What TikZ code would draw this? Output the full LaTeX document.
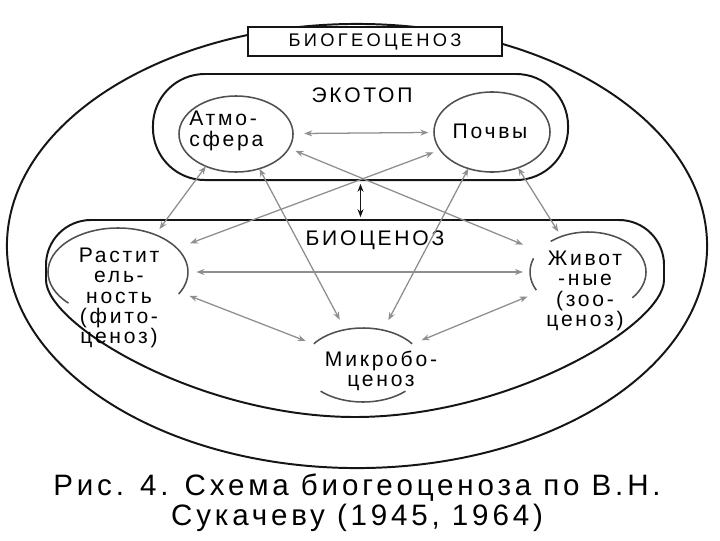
\documentclass[tikz,border=0pt]{standalone}
\usepackage{fontspec}
\setmainfont{Liberation Sans}
\newfontfamily\labelfont[LetterSpace=13]{Liberation Sans}
\newfontfamily\titlefont[LetterSpace=18]{Liberation Sans}
\newfontfamily\captionfont[LetterSpace=13]{Liberation Sans}
\usetikzlibrary{arrows.meta,shapes.geometric}
\definecolor{ink}{HTML}{151515}
\definecolor{rim}{HTML}{505050}
\definecolor{flow}{HTML}{8E8E8E}
\tikzset{
  shell/.style={draw=ink, line width=1.4pt},
  partnode/.style={ellipse, inner sep=0pt, outer sep=0pt},
  partrim/.style={draw=rim, line width=1.1pt},
  tag/.style={font=\labelfont\fontsize{15}{14.5}\selectfont, align=center, inner sep=0pt},
  headtag/.style={font=\labelfont\fontsize{15}{16}\selectfont, inner sep=0pt},
  titlebox/.style={draw=ink, fill=white, line width=1.1pt, minimum width=6.35cm,
    minimum height=0.725cm, inner sep=0pt, font=\titlefont\fontsize{13}{14}\selectfont},
  arr/.style={{Stealth[length=2mm,width=1.5mm]}-{Stealth[length=2mm,width=1.5mm]},
    line width=0.9pt, draw=flow},
  vertarr/.style={arr, draw=ink}
}
\begin{document}
\begin{tikzpicture}[x=0.025cm, y=-0.025cm]
  \useasboundingbox (0,0) rectangle (720,540);
  \node[partnode, shell, minimum width=17.5cm, minimum height=11.1cm] (bgc) at (357,246) {};
  \node[titlebox] (title) at (375,41.5) {БИОГЕОЦЕНОЗ};
  \node[shell, rounded corners=1.3cm, minimum width=10.375cm, minimum height=2.65cm] (ecotop) at (360.5,127) {};
  \node[headtag] (ecotop-t) at (362,95) {ЭКОТОП};
  \draw[shell] (91,220) -- (619,220) arc[start angle=-90, end angle=0, radius=45] -- (664,280)
    .. controls (664,325) and (510,417) .. (355,417)
    .. controls (200,417) and (46,325) .. (46,280) -- (46,265)
    arc[start angle=180, end angle=270, radius=45] -- cycle;
  \coordinate (bioc) at (360.5,220);
  \node[headtag] (bioc-t) at (375,240) {БИОЦЕНОЗ};

  \node[partnode, partrim, minimum width=2.85cm, minimum height=1.9cm] (atm) at (236,134) {};
  \node[partnode, partrim, minimum width=2.9cm, minimum height=2cm] (poch) at (492,132) {};
  \node[partnode, minimum width=3.5cm, minimum height=2.2cm] (rast) at (118,272) {};
  \node[partnode, minimum width=2.9cm, minimum height=2cm] (zhiv) at (588,272) {};
  \node[partnode, minimum width=3cm, minimum height=1.85cm] (micro) at (363,365) {};
  \draw[partrim] (rast.center) ++(135:70 and 44) arc[start angle=135, end angle=390, x radius=70, y radius=44];
  \draw[partrim] (zhiv.center) ++(230:58 and 40) arc[start angle=230, end angle=400, x radius=58, y radius=40];
  \draw[partrim] (zhiv.center) ++(153:58 and 40) arc[start angle=153, end angle=200, x radius=58, y radius=40];
  \draw[partrim] (micro.center) ++(215:60 and 37) arc[start angle=215, end angle=325, x radius=60, y radius=37];
  \draw[partrim] (micro.center) ++(45:60 and 37) arc[start angle=45, end angle=135, x radius=60, y radius=37];

  \node[tag, align=left, anchor=west] (atm-t) at (189,131) {Атмо-\\сфера};
  \node[tag] (poch-t) at (490,131) {Почвы};
  \node[tag] (rast-t) at (119,298) {Растит\\ель-\\ность\\(фито-\\ценоз)};
  \node[tag] (zhiv-t) at (585,291) {Живот\\-ные\\(зоо-\\ценоз)};
  \node[tag] (micro-t) at (381,371) {Микробо-\\ценоз};

  \draw[arr, shorten <=8pt, shorten >=4pt] (atm) -- (poch);
  \draw[arr, shorten <=5pt, shorten >=12pt] (atm.-15) -- (zhiv.157);
  \draw[arr, shorten <=5pt, shorten >=10pt] (poch.199) -- (rast.22);
  \draw[arr, shorten >=5pt] (atm.227) -- (rast.45);
  \draw[arr, shorten >=8pt] (atm.-56) -- (micro.117);
  \draw[arr, shorten >=8pt] (poch.237) -- (micro.60);
  \draw[arr, shorten >=4pt] (poch.-54) -- (zhiv.127);
  \draw[arr, shorten <=6pt, shorten >=5pt] (rast.east) -- (zhiv.west);
  \draw[arr, shorten <=7pt, shorten >=6pt] (rast.-18) -- (micro.157);
  \draw[arr, shorten <=8pt, shorten >=7pt] (zhiv.202) -- (micro.23);
  \draw[vertarr, shorten <=2pt, shorten >=2pt] (ecotop.south) -- (bioc);

  \node[font=\captionfont\fontsize{21}{21.3}\selectfont, align=center, inner sep=0pt] (caption) at (357,503)
    {Рис. 4. Схема биогеоценоза по В.Н.\\Сукачеву (1945, 1964)};
\end{tikzpicture}
\end{document}
